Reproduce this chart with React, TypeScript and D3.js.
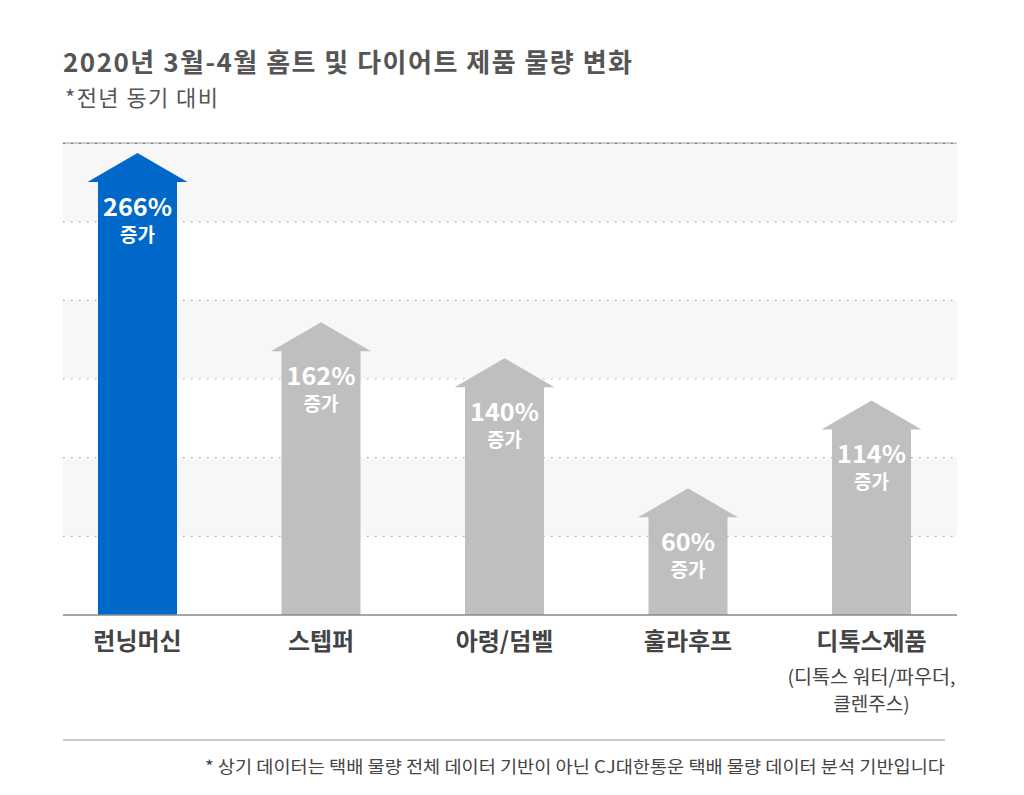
import React from "react";
import * as d3 from "d3";

const categories = ["런닝머신", "스텝퍼", "아령/덤벨", "훌라후프", "디톡스제품"];
const subLabels = ["", "", "", "", "(디톡스 워터/파우더,|클렌주스)"];
const values = [266, 162, 140, 60, 114];
const highlight = [true, false, false, false, false];
const title = "2020년 3월-4월 홈트 및 다이어트 제품 물량 변화";
const subtitle = "*전년 동기 대비";
const footnote = "* 상기 데이터는 택배 물량 전체 데이터 기반이 아닌 CJ대한통운 택배 물량 데이터 분석 기반입니다";
const suffix = "증가";

const W = 1024;
const H = 795;
const FONT = "'Noto Sans CJK KR', 'Noto Sans', sans-serif";

export default function App() {
  const left = 63, right = 957, top = 143, bottom = 615;
  const y = d3.scaleLinear().domain([0, 290]).range([bottom, top]);
  const x = d3.scalePoint<string>().domain(categories).range([137.5, 871.5]);
  const shaftW = 79;
  const headW = 100;
  const headH = 29;
  const bandsN = 6;
  const gridYs = d3.range(bandsN + 1).map((i) => top + ((bottom - top) * i) / bandsN);

  return (
    <svg width={W} height={H} style={{ display: "block", margin: "-8px" }} viewBox={`0 0 ${W} ${H}`}>
      <rect x={0} y={0} width={W} height={H} fill="#fff" />
      <text x={63} y={72} fontFamily={FONT} fontWeight={700} fontSize={26} fill="#555" textLength={569} lengthAdjust="spacing">{title}</text>
      <text x={65} y={106} fontFamily={FONT} fontWeight={400} fontSize={22} fill="#555" textLength={153} lengthAdjust="spacing">{subtitle}</text>

      {gridYs.slice(0, -1).map((gy, i) =>
        i % 2 === 0 ? (
          <rect key={"b" + i} x={left} y={gy} width={right - left} height={gridYs[i + 1] - gy} fill="#f7f7f7" />
        ) : null
      )}
      {gridYs.slice(1, -1).map((gy, i) => (
        <line key={"g" + i} x1={left} x2={right} y1={gy} y2={gy} stroke="#aaa" strokeWidth={1.2} strokeDasharray="1.5,6.5" />
      ))}
      <line x1={left} x2={right} y1={top} y2={top} stroke="#999" strokeWidth={1} />
      <line x1={left} x2={right} y1={top + 0.5} y2={top + 0.5} stroke="#777" strokeWidth={1} strokeDasharray="2,6" />

      {categories.map((c, i) => {
        const cx = x(c)!;
        const yt = y(values[i]);
        const color = highlight[i] ? "#0068c8" : "#bfbfbf";
        const path = [
          [cx - shaftW / 2, bottom],
          [cx - shaftW / 2, yt],
          [cx - headW / 2, yt],
          [cx, yt - headH],
          [cx + headW / 2, yt],
          [cx + shaftW / 2, yt],
          [cx + shaftW / 2, bottom],
        ];
        return (
          <g key={c}>
            <path d={d3.line()(path as [number, number][]) + "Z"} fill={color} />
            <text x={cx} y={yt + 34} textAnchor="middle" fontFamily={FONT} fontWeight={700} fontSize={24} fill="#fff" textLength={String(values[i]).length * 15 + 24} lengthAdjust="spacingAndGlyphs">
              {values[i]}%
            </text>
            <text x={cx} y={yt + 60} textAnchor="middle" fontFamily={FONT} fontWeight={700} fontSize={19} fill="#fff">
              {suffix}
            </text>
            <text x={cx} y={650} textAnchor="middle" fontFamily={FONT} fontWeight={700} fontSize={24} fill="#444">
              {c}
            </text>
            {subLabels[i]
              ? subLabels[i].split("|").map((s, k) => (
                  <text key={k} x={cx} y={684 + k * 27} textAnchor="middle" fontFamily={FONT} fontWeight={400} fontSize={19} fill="#444" textLength={k === 0 ? 168 : undefined} lengthAdjust="spacingAndGlyphs">
                    {s}
                  </text>
                ))
              : null}
          </g>
        );
      })}
      <line x1={left} x2={right} y1={bottom} y2={bottom} stroke="#888" strokeWidth={1.5} />

      <line x1={63} x2={945} y1={740} y2={740} stroke="#bbb" strokeWidth={1.5} />
      <text x={945} y={773} textAnchor="end" fontFamily={FONT} fontWeight={400} fontSize={17} fill="#444" textLength={740} lengthAdjust="spacingAndGlyphs">
        {footnote}
      </text>
    </svg>
  );
}
